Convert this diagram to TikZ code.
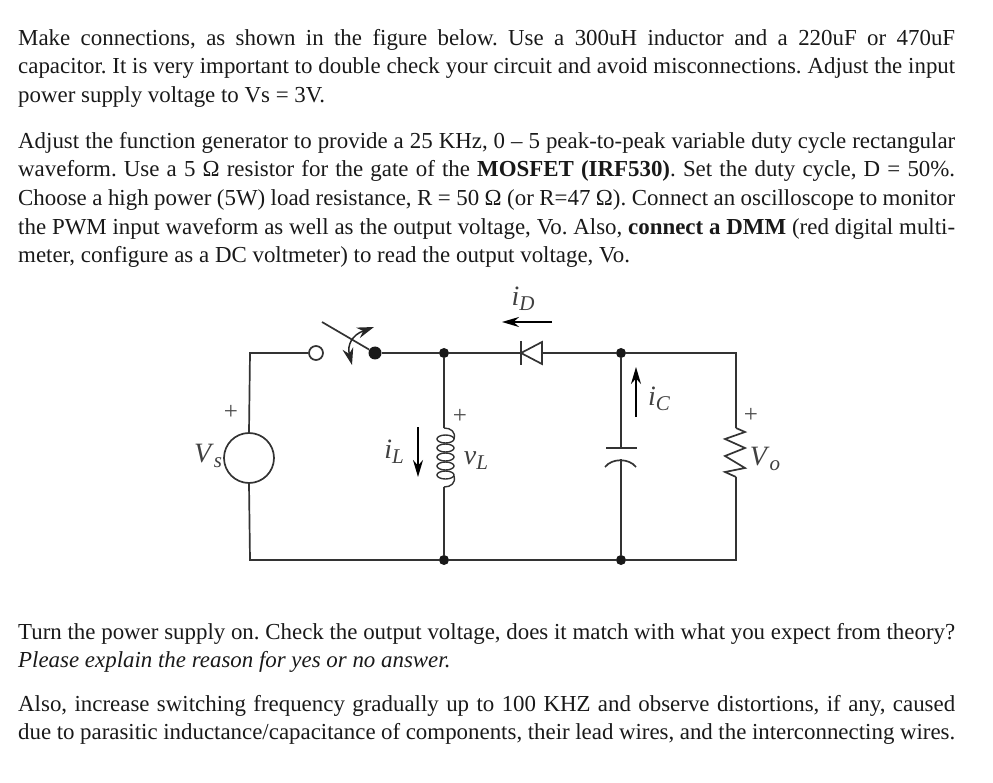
\documentclass[tikz,border=0pt]{standalone}
\usepackage{fontspec}
\setmainfont{Liberation Serif}
\usepackage{tikz}
\usetikzlibrary{arrows.meta}
\frenchspacing
\tikzset{
  wire/.style={line width=1.7pt,draw=black!80},
  para/.style={anchor=north west,inner sep=0pt,text width=937pt,align=justify,text=black!90,
    font=\fontsize{22.9}{28.65}\selectfont},
  dotb/.style={circle,fill=black!90,inner sep=0pt,minimum size=#1},
  ring/.style={circle,draw=black!80,fill=white,line width=1.7pt,inner sep=0pt,minimum size=#1},
  lbl/.style={inner sep=0pt,text=black!75,font=\fontsize{28}{28}\selectfont},
  plus/.style={inner sep=0pt,text=black!70,font=\fontsize{25}{25}\selectfont},
  curr/.style={line width=1.8pt,draw=black,-{Stealth[length=17pt,width=10pt]}}
}
\newcommand{\cursym}[2]{\textit{#1}\raisebox{-5pt}{\fontsize{21}{21}\selectfont\textit{#2}}}
\begin{document}
\begin{tikzpicture}[x=1pt,y=-1pt]
\useasboundingbox (0,0) rectangle (993,783);
% text
\node[para] (partop) at (18,29) {Make connections, as shown in the figure below. Use a 300uH inductor and a 220uF or 470uF\linebreak
capacitor. It is very important to double check your circuit and avoid misconnections. Adjust the input\linebreak
power supply voltage to Vs = 3V.};
\node[para] (pargen) at (18,132) {Adjust the function generator to provide a 25 KHz, 0 -- 5 peak-to-peak variable duty cycle rectangular\linebreak
waveform. Use a 5 Ω resistor for the gate of the \textbf{MOSFET (IRF530)}. Set the duty cycle, D = 50\%.\linebreak
Choose a high power (5W) load resistance, R = 50 Ω (or R=47 Ω). Connect an oscilloscope to monitor\linebreak
the PWM input waveform as well as the output voltage, Vo. Also, \textbf{connect a DMM} (red digital multi-\linebreak
meter, configure as a DC voltmeter) to read the output voltage, Vo.};
\node[para] (parturn) at (18,623) {Turn the power supply on. Check the output voltage, does it match with what you expect from theory?\linebreak
\textit{Please explain the reason for yes or no answer.}};
\node[para] (parfreq) at (18,695) {Also, increase switching frequency gradually up to 100 KHZ and observe distortions, if any, caused\linebreak
due to parasitic inductance/capacitance of components, their lead wires, and the interconnecting wires.\parfillskip=0pt};
%
% nodes of the circuit
\node[ring=50pt] (vs) at (249,458) {};
\node[ring=14pt] (swa) at (316,353) {};
\node[dotb=13pt] (swb) at (375,353) {};
\node[dotb=10pt] (ntop) at (444,353) {};
\node[dotb=10pt] (nbot) at (444,560) {};
\node[dotb=10pt] (ctop) at (621,353) {};
\node[dotb=10pt] (cbot) at (621,560) {};
\coordinate (tl) at (250,353);
\coordinate (bl) at (250,560);
\coordinate (tr) at (736,353);
\coordinate (br) at (736,560);
\coordinate (da) at (521,353);
\coordinate (dk) at (542,353);
\coordinate (la) at (444,428);
\coordinate (lb) at (444,487);
\coordinate (ra) at (736,428);
\coordinate (rb) at (736,477);
\coordinate (cpa) at (621,448);
\coordinate (cpb) at (621,459);
%
% wires
\draw[wire] (vs.north) -- (tl) -- (swa.west);
\draw[wire] (vs.south) -- (bl) -- (nbot);
\draw[wire] (swb) -- (ntop) -- (da);
\draw[wire] (dk) -- (ctop) -- (tr) -- (ra);
\draw[wire] (nbot) -- (cbot) -- (br) -- (rb);
\draw[wire] (ntop) -- (la);
\draw[wire] (lb) -- (nbot);
\draw[wire] (ctop) -- (cpa);
\draw[wire] (cpb) -- (cbot);
%
% switch
\coordinate (blade) at (322,322);
\coordinate (swup) at (374,327);
\coordinate (swdn) at (352,365);
\draw[wire] (blade) -- (swb);
\draw[line width=1.5pt,draw=black!85,{Stealth[length=17pt,width=11pt]}-{Stealth[length=17pt,width=11pt]}] (swdn) .. controls (347,345) and (352,335) .. (swup);
%
% diode
\draw[wire,line join=miter] (dk) -- ++(0,-11) -- (da) -- (542,364) -- cycle;
\draw[wire] (521,341) -- (521,365);
%
% inductor
\draw[wire,line width=1.4pt] (la) .. controls (451,428) and (456,432) .. (454,439);
\draw[wire,line width=1.4pt] (lb) .. controls (451,487) and (456,483) .. (454,476);
\foreach \yy in {439,448,457,466,475}
  \draw[wire,line width=1.4pt] (445.5,\yy) ellipse (8.5 and 4);
%
% capacitor
\draw[wire] (606,448) -- (637,448);
\draw[wire] (605,467) .. controls (612,458) and (629,458) .. (636,467);
%
% resistor
\draw[wire] (ra) -- (745,432) -- (725,439) -- (745,448) -- (725,456) -- (745,468) -- (725,472) -- (rb);
%
% current arrows
\coordinate (ida) at (552,322);
\coordinate (idb) at (502,322);
\coordinate (ica) at (636,417);
\coordinate (icb) at (636,367);
\coordinate (ila) at (418,427);
\coordinate (ilb) at (418,477);
\draw[curr] (ida) -- (idb);
\draw[curr] (ica) -- (icb);
\draw[curr] (ila) -- (ilb);
%
% labels
\node[lbl] (lbid) at (523,299) {\cursym{i}{D}};
\node[lbl] (lbic) at (659,399) {\cursym{i}{C}};
\node[lbl] (lbil) at (394,452) {\cursym{i}{L}};
\node[lbl] (lbvs) at (208,456) {\cursym{V}{s}};
\node[lbl] (lbvl) at (476,461) {\cursym{v}{L}};
\node[lbl] (lbvo) at (765,459) {\cursym{V}{o}};
\node[plus] (plvs) at (231,412) {+};
\node[plus] (plvl) at (460,416) {+};
\node[plus] (plvo) at (751,415) {+};
\end{tikzpicture}
\end{document}
